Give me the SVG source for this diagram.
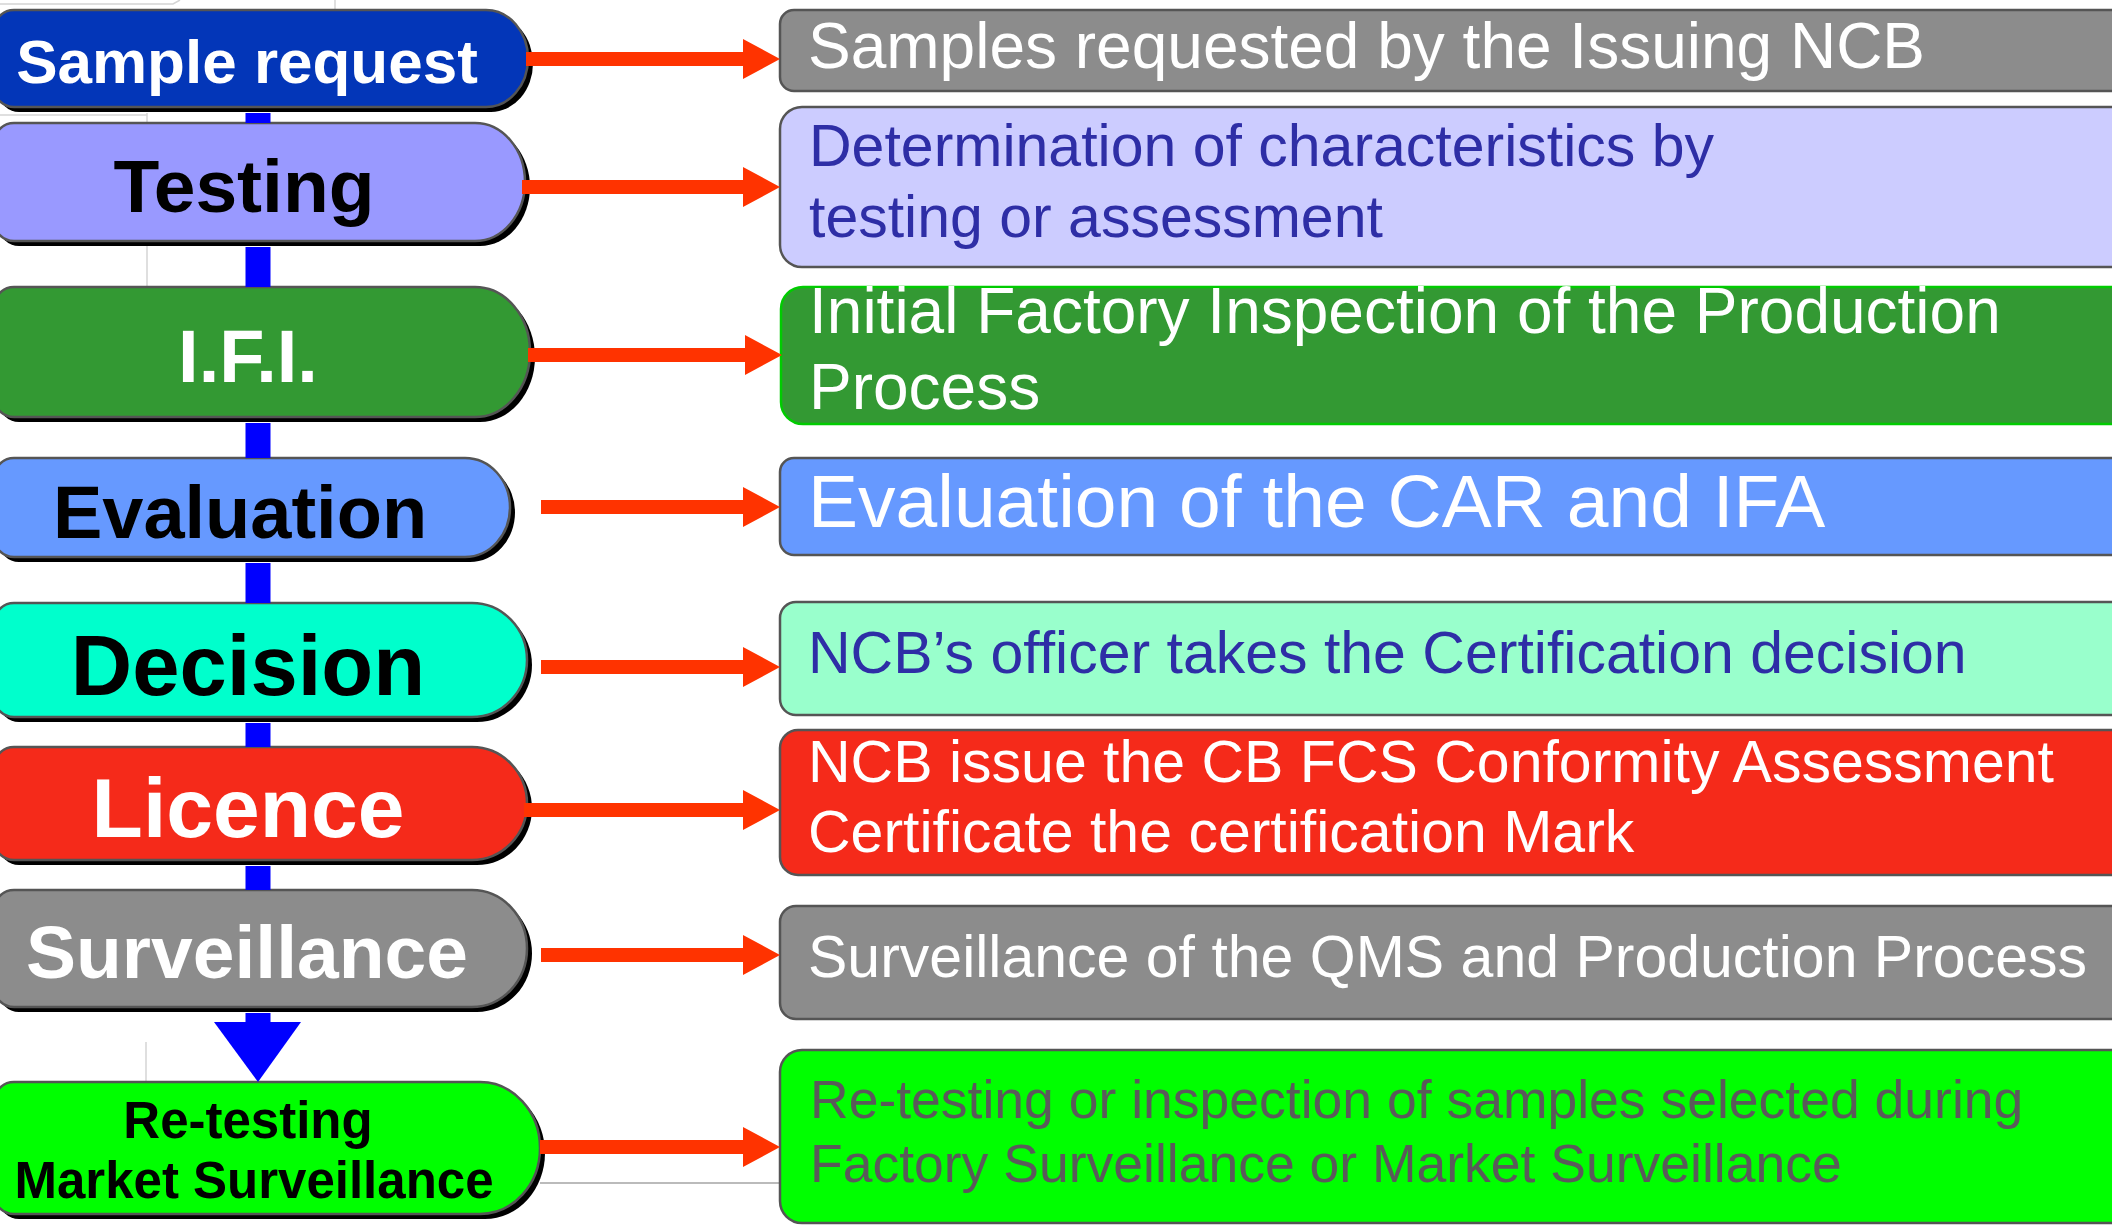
<svg xmlns="http://www.w3.org/2000/svg" width="2112" height="1225" viewBox="0 0 2112 1225">
<style>
.bg{fill:none;stroke:#d4d4d4;stroke-width:1.5}
.sh{fill:#000}
.pl{stroke:#555;stroke-width:2.5}
.bx{stroke:#555;stroke-width:2.5}
.pt{font-family:"Liberation Sans",Arial,sans-serif;font-weight:bold;text-anchor:middle}
.bt{font-family:"Liberation Sans",Arial,sans-serif}
.red{fill:#ff3300}
.blue{fill:#0000ff}
.w{fill:#fff}
.k{fill:#000}
.nb{fill:#2e2ea6}
</style>
<rect x="0" y="0" width="2112" height="1225" fill="#fff"/>
<g id="background">
<path class="bg" d="M0,4 H173 L180,0"/>
<path class="bg" d="M335,0 V10"/>
<path class="bg" d="M147,113 V287"/>
<path class="bg" d="M0,115 H147"/>
<path class="bg" d="M146,1042 V1082"/>
<path d="M540,1183 H780" stroke="#bbb" stroke-width="2" fill="none"/>
</g>

<g id="node-sample-request">
<path class="sh" transform="translate(5,5)" d="M14,10 H486 A42 48.5 0 0 1 528,58.5 A42 48.5 0 0 1 486,107 H14 A20 20 0 0 1 -6,87 V30 A20 20 0 0 1 14,10 Z"/>
<path class="pl" fill="#0336b8" d="M14,10 H486 A42 48.5 0 0 1 528,58.5 A42 48.5 0 0 1 486,107 H14 A20 20 0 0 1 -6,87 V30 A20 20 0 0 1 14,10 Z"/>
<text class="pt w" x="247" y="83" font-size="62">Sample request</text>
</g>
<g id="node-testing">
<path class="sh" transform="translate(5,5)" d="M14,123 H475 A50 59 0 0 1 525,182 A50 59 0 0 1 475,241 H14 A20 20 0 0 1 -6,221 V143 A20 20 0 0 1 14,123 Z"/>
<path class="pl" fill="#9999ff" d="M14,123 H475 A50 59 0 0 1 525,182 A50 59 0 0 1 475,241 H14 A20 20 0 0 1 -6,221 V143 A20 20 0 0 1 14,123 Z"/>
<text class="pt k" x="244" y="212" font-size="75">Testing</text>
</g>
<g id="node-ifi">
<path class="sh" transform="translate(5,5)" d="M14,287 H475 A55 65 0 0 1 530,352 A55 65 0 0 1 475,417 H14 A20 20 0 0 1 -6,397 V307 A20 20 0 0 1 14,287 Z"/>
<path class="pl" fill="#339933" d="M14,287 H475 A55 65 0 0 1 530,352 A55 65 0 0 1 475,417 H14 A20 20 0 0 1 -6,397 V307 A20 20 0 0 1 14,287 Z"/>
<text class="pt w" x="248" y="382" font-size="74">I.F.I.</text>
</g>
<g id="node-evaluation">
<path class="sh" transform="translate(5,5)" d="M14,458 H465 A45 49.5 0 0 1 510,507.5 A45 49.5 0 0 1 465,557 H14 A20 20 0 0 1 -6,537 V478 A20 20 0 0 1 14,458 Z"/>
<path class="pl" fill="#6699ff" d="M14,458 H465 A45 49.5 0 0 1 510,507.5 A45 49.5 0 0 1 465,557 H14 A20 20 0 0 1 -6,537 V478 A20 20 0 0 1 14,458 Z"/>
<text class="pt k" x="240" y="538" font-size="74">Evaluation</text>
</g>
<g id="node-decision">
<path class="sh" transform="translate(5,5)" d="M14,603 H472 A55 57 0 0 1 527,660 A55 57 0 0 1 472,717 H14 A20 20 0 0 1 -6,697 V623 A20 20 0 0 1 14,603 Z"/>
<path class="pl" fill="#00ffcc" d="M14,603 H472 A55 57 0 0 1 527,660 A55 57 0 0 1 472,717 H14 A20 20 0 0 1 -6,697 V623 A20 20 0 0 1 14,603 Z"/>
<text class="pt k" x="248" y="695" font-size="85">Decision</text>
</g>
<g id="node-licence">
<path class="sh" transform="translate(5,5)" d="M14,747 H472 A55 56.5 0 0 1 527,803.5 A55 56.5 0 0 1 472,860 H14 A20 20 0 0 1 -6,840 V767 A20 20 0 0 1 14,747 Z"/>
<path class="pl" fill="#f52a1a" d="M14,747 H472 A55 56.5 0 0 1 527,803.5 A55 56.5 0 0 1 472,860 H14 A20 20 0 0 1 -6,840 V767 A20 20 0 0 1 14,747 Z"/>
<text class="pt w" x="248" y="837" font-size="84">Licence</text>
</g>
<g id="node-surveillance">
<path class="sh" transform="translate(5,5)" d="M14,890 H472 A55 58.5 0 0 1 527,948.5 A55 58.5 0 0 1 472,1007 H14 A20 20 0 0 1 -6,987 V910 A20 20 0 0 1 14,890 Z"/>
<path class="pl" fill="#8c8c8c" d="M14,890 H472 A55 58.5 0 0 1 527,948.5 A55 58.5 0 0 1 472,1007 H14 A20 20 0 0 1 -6,987 V910 A20 20 0 0 1 14,890 Z"/>
<text class="pt w" x="247" y="978" font-size="75">Surveillance</text>
</g>
<g id="node-retesting">
<path class="sh" transform="translate(5,5)" d="M14,1082 H480 A60 66 0 0 1 540,1148 A60 66 0 0 1 480,1214 H14 A20 20 0 0 1 -6,1194 V1102 A20 20 0 0 1 14,1082 Z"/>
<path class="pl" fill="#00ff00" d="M14,1082 H480 A60 66 0 0 1 540,1148 A60 66 0 0 1 480,1214 H14 A20 20 0 0 1 -6,1194 V1102 A20 20 0 0 1 14,1082 Z"/>
<text class="pt k" x="248" y="1138" font-size="51">Re-testing</text>
<text class="pt k" x="254" y="1198" font-size="51">Market Surveillance</text>
</g>

<g id="box-samples">
<rect class="bx" x="780" y="10" width="1360" height="81" rx="14" fill="#8c8c8c"/>
<text class="bt w" x="808" y="68" font-size="64">Samples requested by the Issuing NCB</text>
</g>
<g id="box-determination">
<rect class="bx" x="780" y="107" width="1360" height="160" rx="22" fill="#ccccff"/>
<text class="bt nb" x="809" y="166" font-size="59">Determination of characteristics by</text>
<text class="bt nb" x="809" y="237" font-size="59">testing or assessment</text>
</g>
<g id="box-ifi">
<rect x="781" y="287" width="1360" height="137" rx="22" fill="#339933" stroke="#00cc00" stroke-width="2.5"/>
<text class="bt w" x="809" y="333" font-size="64">Initial Factory Inspection of the Production</text>
<text class="bt w" x="809" y="409" font-size="64">Process</text>
</g>
<g id="box-evaluation">
<rect class="bx" x="780" y="458" width="1360" height="97" rx="14" fill="#6699ff"/>
<text class="bt w" x="808" y="527" font-size="75">Evaluation of the CAR and IFA</text>
</g>
<g id="box-decision">
<rect class="bx" x="780" y="602" width="1360" height="113" rx="16" fill="#99ffcc"/>
<text class="bt nb" x="808" y="673" font-size="59">NCB’s officer takes the Certification decision</text>
</g>
<g id="box-licence">
<rect class="bx" x="780" y="730" width="1360" height="145" rx="18" fill="#f52a1a"/>
<text class="bt w" x="808" y="782" font-size="59">NCB issue the CB FCS Conformity Assessment</text>
<text class="bt w" x="808" y="852" font-size="59">Certificate the certification Mark</text>
</g>
<g id="box-surveillance">
<rect class="bx" x="780" y="906" width="1360" height="113" rx="16" fill="#8c8c8c"/>
<text class="bt w" x="808" y="977" font-size="59">Surveillance of the QMS and Production Process</text>
</g>
<g id="box-retesting">
<rect class="bx" x="780" y="1050" width="1360" height="173" rx="22" fill="#00ff00"/>
<text class="bt" fill="#5a5a5a" x="810" y="1118" font-size="53.5">Re-testing or inspection of samples selected during</text>
<text class="bt" fill="#5a5a5a" x="810" y="1182" font-size="53.5">Factory Surveillance or Market Surveillance</text>
</g>

<g id="connectors">
<rect class="blue" x="245.5" y="113" width="25" height="10"/>
<rect class="blue" x="245.5" y="247" width="25" height="40"/>
<rect class="blue" x="245.5" y="423" width="25" height="35"/>
<rect class="blue" x="245.5" y="563" width="25" height="40"/>
<rect class="blue" x="245.5" y="723" width="25" height="24"/>
<rect class="blue" x="245.5" y="866" width="25" height="24"/>
<rect class="blue" x="245.5" y="1013" width="25" height="10"/>
<polygon class="blue" points="214,1022 301,1022 258,1082"/>
<polygon class="red" points="526,52 743,52 743,39 780,59 743,79 743,66 526,66"/>
<polygon class="red" points="522,180 743,180 743,167 780,187 743,207 743,194 522,194"/>
<polygon class="red" points="528,348 745,348 745,335 782,355 745,375 745,362 528,362"/>
<polygon class="red" points="541,500 743,500 743,487 780,507 743,527 743,514 541,514"/>
<polygon class="red" points="541,660 743,660 743,647 780,667 743,687 743,674 541,674"/>
<polygon class="red" points="524,803 743,803 743,790 780,810 743,830 743,817 524,817"/>
<polygon class="red" points="541,948 743,948 743,935 780,955 743,975 743,962 541,962"/>
<polygon class="red" points="540,1140 743,1140 743,1127 780,1147 743,1167 743,1154 540,1154"/>
</g>
</svg>
